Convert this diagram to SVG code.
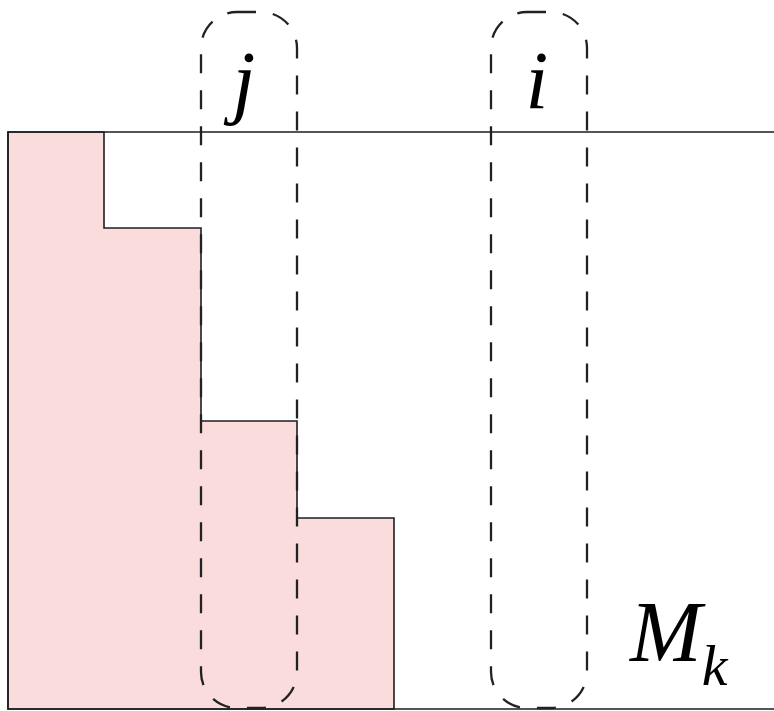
<svg xmlns="http://www.w3.org/2000/svg" width="774" height="711" viewBox="0 0 774 711">
<style>
.frame{fill:none;stroke:#1e1e1e;stroke-width:1.6}
.stair{fill:#fbdcdc;stroke:#1e1e1e;stroke-width:1.6}
.sel{fill:none;stroke:#222;stroke-width:2.3;stroke-dasharray:19 17}
.lbl{font-family:"Liberation Serif","Times New Roman",serif;font-style:italic;fill:#000}
</style>
<rect width="774" height="711" fill="#fff"/>
<g id="matrix">
<path class="stair" d="M8,132 H104 V228 H201 V421 H297 V518 H394 V709 H8 Z"/>
<path class="frame" d="M774,132 H8 V709 H774"/>
</g>
<g id="col-j">
<rect class="sel" x="201" y="12" width="96" height="696" rx="36" ry="36"/>
<text class="lbl" x="244" y="108" font-size="82" text-anchor="middle">j</text>
</g>
<g id="col-i">
<rect class="sel" x="491" y="12" width="96" height="696" rx="36" ry="36"/>
<text class="lbl" x="537" y="108" font-size="82" text-anchor="middle">i</text>
</g>
<g id="label-mk">
<text class="lbl" x="630" y="661" font-size="86">M<tspan font-size="58" dy="24">k</tspan></text>
</g>
<g id="connectors"/>
</svg>
